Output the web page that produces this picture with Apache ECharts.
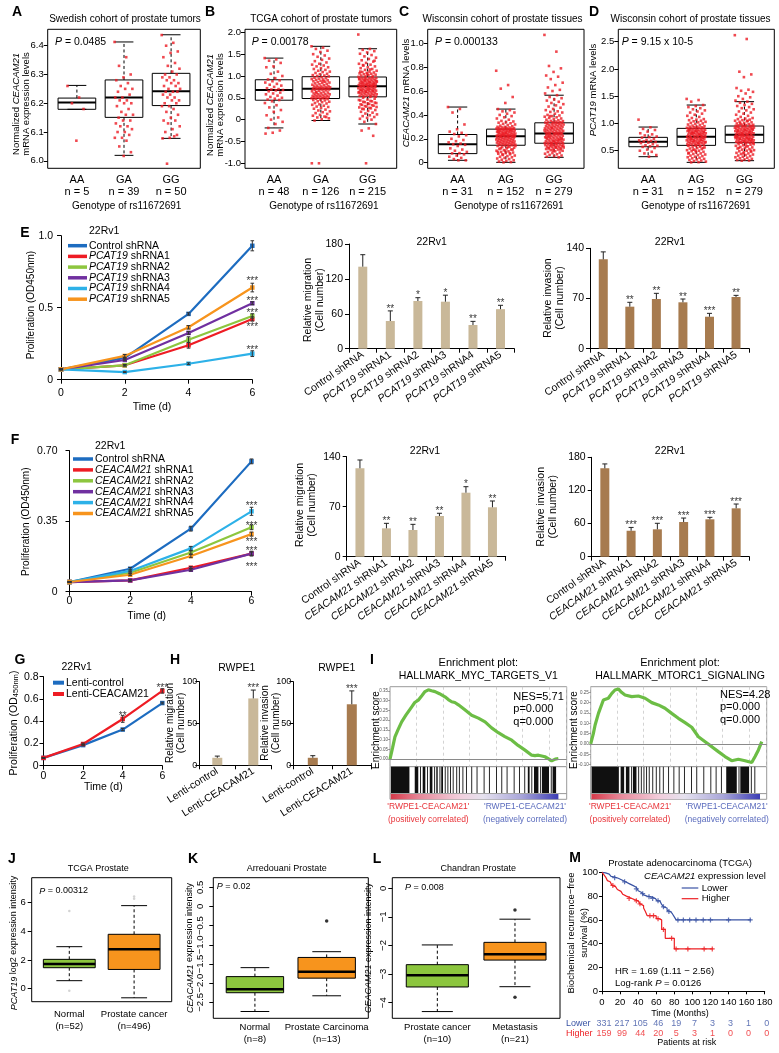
<!DOCTYPE html>
<html><head><meta charset="utf-8"><title>Figure</title>
<script src="https://cdn.jsdelivr.net/npm/echarts@6.0.0/dist/echarts.min.js"></script>
<style>html,body{margin:0;padding:0;background:#fff;}#chart{width:779px;height:1053px;}</style>
</head><body><div id="chart"></div>
<script>
// ======================= DATA =======================
// --- A: Swedish cohort ---
const A_cats = ['AA','GA','GG'];
const A_n = ['n = 5','n = 39','n = 50'];
const A_ticks = [6.0,6.1,6.2,6.3,6.4];
const A_stats = [[6.179,6.179,6.203,6.218,6.262],[6.019,6.151,6.22,6.281,6.413],[6.078,6.192,6.242,6.304,6.438]];
const A_AA = [6.26,6.22,6.20,6.18,6.07];
const A_GA = [6.413,6.36,6.33,6.30,6.29,6.28,6.27,6.26,6.25,6.25,6.24,6.23,6.22,6.22,6.21,6.21,6.20,6.20,6.19,6.18,6.17,6.16,6.16,6.15,6.14,6.14,6.13,6.12,6.12,6.11,6.10,6.10,6.09,6.08,6.08,6.07,6.05,6.03,6.017];
const A_GG = [6.437,6.41,6.40,6.38,6.375,6.36,6.34,6.33,6.32,6.31,6.30,6.30,6.29,6.29,6.28,6.28,6.27,6.27,6.26,6.26,6.25,6.25,6.24,6.24,6.24,6.23,6.23,6.22,6.22,6.21,6.21,6.20,6.20,6.19,6.19,6.18,6.17,6.16,6.15,6.14,6.14,6.13,6.12,6.11,6.10,6.09,6.08,6.078,6.085,5.99];
// --- B: TCGA cohort ---
const B_cats = ['AA','GA','GG'];
const B_n = ['n = 48','n = 126','n = 215'];
const B_ticks = [-1,-0.5,0,0.5,1,1.5,2];
const B_stats = [[-0.19,0.445,0.68,0.914,1.41],[-0.02,0.484,0.71,0.984,1.68],[-0.10,0.523,0.766,0.977,1.625]];
const B_AA = [1.41,1.38,1.35,1.30,1.22,1.20,1.10,1.05,1.00,0.95,0.92,0.90,0.88,0.85,0.82,0.80,0.78,0.75,0.72,0.70,0.69,0.68,0.67,0.65,0.62,0.60,0.58,0.55,0.52,0.50,0.48,0.46,0.45,0.42,0.38,0.33,0.28,0.22,0.18,0.10,0.05,0.0,-0.05,-0.10,-0.19,-0.25,-0.30,-0.32];
const B_GA = [1.68,1.65,1.62,1.58,1.55,1.50,1.47,1.44,1.40,1.37,1.34,1.31,1.28,1.26,1.24,1.22,1.20,1.18,1.16,1.14,1.12,1.10,1.09,1.07,1.05,1.04,1.02,1.01,1.00,0.99,
 0.97,0.96,0.95,0.94,0.93,0.92,0.91,0.90,0.89,0.88,0.87,0.86,0.85,0.84,0.83,0.82,0.81,0.80,0.79,0.78,0.77,0.76,0.76,0.75,0.74,0.74,0.73,0.73,0.72,0.72,0.71,
 0.70,0.70,0.69,0.69,0.68,0.67,0.66,0.65,0.64,0.63,0.62,0.61,0.60,0.59,0.58,0.58,0.57,0.56,0.55,0.55,0.54,0.53,0.53,0.52,0.51,0.51,0.50,0.50,0.49,0.49,0.48,
 0.47,0.46,0.45,0.44,0.42,0.41,0.40,0.38,0.37,0.35,0.34,0.32,0.30,0.29,0.27,0.25,0.23,0.21,0.19,0.17,0.15,0.13,0.11,0.09,0.07,0.05,0.03,0.01,-0.02,0.06,-1.0,-1.0,0.88,0.62];
const B_GG = [1.95,1.62,1.60,1.57,1.54,1.51,1.48,1.45,1.42,1.39,1.36,1.33,1.30,1.28,1.26,1.24,1.22,1.20,1.18,1.16,1.14,1.12,1.10,1.09,1.08,1.07,1.06,1.05,1.04,1.03,1.02,1.01,1.00,0.99,0.98,1.15,1.25,1.35,1.05,1.10,
 0.97,0.96,0.955,0.95,0.945,0.94,0.93,0.925,0.92,0.91,0.905,0.90,0.89,0.885,0.88,0.87,0.865,0.86,0.85,0.845,0.84,0.83,0.825,0.82,0.81,0.805,0.80,0.795,0.79,0.785,0.78,0.775,0.77,0.768,0.767,0.90,0.88,0.86,0.84,0.82,0.80,0.94,
 0.765,0.76,0.75,0.745,0.74,0.73,0.725,0.72,0.71,0.705,0.70,0.69,0.685,0.68,0.67,0.665,0.66,0.65,0.645,0.64,0.63,0.625,0.62,0.61,0.605,0.60,0.59,0.585,0.58,0.57,0.565,0.56,0.55,0.545,0.54,0.53,0.525,0.70,0.68,0.66,0.64,0.62,
 0.52,0.50,0.48,0.46,0.44,0.42,0.40,0.38,0.36,0.34,0.32,0.30,0.28,0.26,0.24,0.22,0.20,0.18,0.16,0.14,0.12,0.10,0.08,0.06,0.04,0.02,0.00,-0.05,-0.10,-0.20,-0.25,-0.37,-1.0,0.45,0.43,0.41,0.39,0.37,0.35,0.33,0.31,0.29,0.27,0.25];
// --- C: Wisconsin CEACAM21 ---
const C_cats = ['AA','AG','GG'];
const C_n = ['n = 31','n = 152','n = 279'];
const C_ticks = [0,0.2,0.4,0.6,0.8,1.0];
const C_stats = [[0.02,0.076,0.155,0.236,0.466],[0.003,0.146,0.222,0.281,0.449],[0.045,0.163,0.244,0.334,0.565]];
const C_AA = [0.466,0.45,0.42,0.32,0.28,0.26,0.25,0.24,0.23,0.22,0.20,0.19,0.18,0.17,0.16,0.155,0.15,0.14,0.12,0.11,0.10,0.09,0.08,0.078,0.07,0.06,0.05,0.04,0.03,0.02,0.02];
const C_AG = [0.77,0.65,0.62,0.55,0.50,0.449,0.44,0.43,0.42,0.41,0.40,0.39,0.38,0.37,0.36,0.35,0.345,0.34,0.335,0.33,0.325,0.32,0.315,0.31,0.305,0.30,0.30,0.295,0.295,0.29,0.29,0.29,0.285,0.285,0.285,0.28,0.28,0.28,
 0.278,0.276,0.274,0.272,0.27,0.268,0.266,0.264,0.262,0.26,0.258,0.256,0.254,0.252,0.25,0.248,0.246,0.244,0.242,0.24,0.238,0.236,0.234,0.232,0.23,0.229,0.228,0.227,0.226,0.225,0.224,0.223,0.222,0.222,0.25,0.26,0.27,0.24,
 0.221,0.218,0.216,0.214,0.212,0.21,0.208,0.206,0.204,0.202,0.2,0.198,0.196,0.194,0.192,0.19,0.188,0.186,0.184,0.182,0.18,0.178,0.176,0.174,0.172,0.17,0.168,0.166,0.164,0.162,0.16,0.158,0.156,0.154,0.152,0.15,0.148,0.146,
 0.145,0.14,0.135,0.13,0.125,0.12,0.115,0.11,0.105,0.1,0.095,0.09,0.085,0.08,0.075,0.07,0.065,0.06,0.055,0.05,0.045,0.04,0.035,0.03,0.025,0.02,0.015,0.01,0.005,0.003,0.14,0.13,0.12,0.11,0.1,0.09,0.08,0.07];
const C_GG = [1.07,0.93,0.81,0.79,0.76,0.73,0.72,0.70,0.67,0.65,0.63,0.61,0.60,0.58,
 0.565,0.55,0.54,0.53,0.52,0.51,0.50,0.49,0.48,0.47,0.46,0.45,0.44,0.43,0.425,0.42,0.41,0.40,0.395,0.39,0.385,0.38,0.375,0.37,0.365,0.36,0.355,0.35,0.348,0.345,0.342,0.34,0.338,0.336,0.335,0.39,
 0.333,0.33,0.327,0.325,0.322,0.32,0.317,0.315,0.312,0.31,0.307,0.305,0.302,0.30,0.297,0.295,0.292,0.29,0.287,0.285,0.282,0.28,0.277,0.275,0.272,0.27,0.267,0.265,0.262,0.26,0.257,0.255,0.252,0.25,0.248,0.246,0.245,0.244,0.29,0.27,
 0.243,0.24,0.238,0.235,0.233,0.23,0.228,0.225,0.223,0.22,0.218,0.215,0.213,0.21,0.208,0.205,0.203,0.20,0.198,0.195,0.193,0.19,0.188,0.185,0.183,0.18,0.178,0.175,0.173,0.17,0.168,0.166,0.165,0.164,0.163,0.22,0.20,0.18,0.21,0.19,
 0.162,0.16,0.157,0.155,0.152,0.15,0.147,0.145,0.142,0.14,0.137,0.135,0.132,0.13,0.127,0.125,0.122,0.12,0.117,0.115,0.11,0.105,0.10,0.095,0.09,0.085,0.08,0.075,0.07,0.065,0.06,0.055,0.05,0.045,0.15,0.14,0.13,0.12,0.11,0.10];
// --- D: Wisconsin PCAT19 ---
const D_cats = ['AA','AG','GG'];
const D_n = ['n = 31','n = 152','n = 279'];
const D_ticks = [0.5,1.0,1.5,2.0,2.5];
const D_stats = [[0.39,0.573,0.665,0.745,0.934],[0.286,0.598,0.757,0.91,1.338],[0.317,0.647,0.794,0.953,1.40]];
const D_AA = [1.07,0.93,0.90,0.88,0.85,0.82,0.80,0.78,0.76,0.75,0.74,0.72,0.70,0.69,0.68,0.67,0.66,0.65,0.64,0.62,0.60,0.59,0.58,0.57,0.55,0.52,0.50,0.48,0.45,0.42,0.39];
const D_AG = [1.45,1.43,1.40,1.338,1.32,1.30,1.28,1.26,1.24,1.22,1.20,1.18,1.16,1.14,1.12,1.10,1.08,1.07,1.06,1.05,1.04,1.03,1.02,1.01,1.00,0.99,0.98,0.97,0.96,0.95,0.94,0.94,0.93,0.93,0.92,0.92,0.91,0.91,
 0.905,0.90,0.895,0.89,0.885,0.88,0.875,0.87,0.865,0.86,0.855,0.85,0.845,0.84,0.835,0.83,0.825,0.82,0.815,0.81,0.805,0.80,0.795,0.79,0.785,0.78,0.775,0.77,0.765,0.76,0.758,0.80,0.82,0.84,0.86,0.88,0.78,0.83,
 0.755,0.75,0.745,0.74,0.735,0.73,0.725,0.72,0.715,0.71,0.705,0.70,0.695,0.69,0.685,0.68,0.675,0.67,0.665,0.66,0.655,0.65,0.645,0.64,0.635,0.63,0.625,0.62,0.615,0.61,0.605,0.60,0.70,0.68,0.66,0.64,0.72,0.74,
 0.595,0.59,0.58,0.57,0.56,0.55,0.54,0.53,0.52,0.51,0.50,0.49,0.48,0.47,0.46,0.45,0.44,0.43,0.42,0.41,0.40,0.39,0.38,0.37,0.36,0.35,0.34,0.33,0.32,0.31,0.30,0.29,0.286,0.55,0.50,0.45,0.58,0.52];
const D_GG = [2.62,2.55,1.95,1.90,1.85,1.65,1.62,1.60,1.58,1.55,1.50,1.48,1.45,1.42,
 1.40,1.38,1.36,1.34,1.32,1.30,1.28,1.26,1.24,1.22,1.20,1.18,1.16,1.14,1.12,1.10,1.09,1.08,1.07,1.06,1.05,1.04,1.03,1.02,1.01,1.00,0.99,0.98,0.975,0.97,0.965,0.96,0.958,0.955,1.05,1.00,
 0.95,0.945,0.94,0.935,0.93,0.925,0.92,0.915,0.91,0.905,0.90,0.895,0.89,0.885,0.88,0.875,0.87,0.865,0.86,0.855,0.85,0.845,0.84,0.835,0.83,0.825,0.82,0.815,0.81,0.805,0.80,0.798,0.796,0.795,0.90,0.88,0.86,0.84,0.82,0.92,
 0.79,0.785,0.78,0.775,0.77,0.765,0.76,0.755,0.75,0.745,0.74,0.735,0.73,0.725,0.72,0.715,0.71,0.705,0.70,0.695,0.69,0.685,0.68,0.675,0.67,0.665,0.66,0.655,0.652,0.65,0.648,0.647,0.78,0.76,0.74,0.72,0.70,0.68,0.75,0.71,
 0.645,0.64,0.63,0.62,0.61,0.60,0.59,0.58,0.57,0.56,0.55,0.54,0.53,0.52,0.51,0.50,0.49,0.48,0.47,0.46,0.45,0.44,0.43,0.42,0.41,0.40,0.39,0.38,0.37,0.36,0.35,0.34,0.33,0.32,0.317,0.62,0.58,0.55,0.50,0.45];

// --- E: PCAT19 knockdown ---
const DAYS = [0,2,4,6];
const E_names = ['Control shRNA','PCAT19 shRNA1','PCAT19 shRNA2','PCAT19 shRNA3','PCAT19 shRNA4','PCAT19 shRNA5'];
const E_vals = [[0.072,0.151,0.457,0.93],[0.072,0.10,0.239,0.422],[0.072,0.10,0.278,0.443],[0.072,0.137,0.325,0.531],[0.072,0.053,0.111,0.181],[0.072,0.165,0.364,0.64]];
const E_errs = [[0.003,0.005,0.008,0.035],[0.003,0.005,0.02,0.015],[0.003,0.005,0.02,0.015],[0.003,0.005,0.01,0.01],[0.003,0.003,0.006,0.02],[0.003,0.01,0.012,0.03]];
const E_stars = [[6,0.703,'***'],[6,0.568,'***'],[6,0.483,'***'],[6,0.383,'***'],[6,0.223,'***']];
const E_barCats = ['Control shRNA','PCAT19 shRNA1','PCAT19 shRNA2','PCAT19 shRNA3','PCAT19 shRNA4','PCAT19 shRNA5'];
const E_mig = [141,47.6,82,80.8,40.7,68];
const E_migErr = [20.6,17.4,5.7,11.2,6.3,6.6];
const E_migStars = ['','**','*','*','**','**'];
const E_inv = [124.6,58.6,69.3,64.7,44.6,72.1];
const E_invErr = [10.4,6.1,7.9,4.6,4.7,2.3];
const E_invStars = ['','**','**','**','***','**'];
// --- F: CEACAM21 knockdown ---
const F_names = ['Control shRNA','CEACAM21 shRNA1','CEACAM21 shRNA2','CEACAM21 shRNA3','CEACAM21 shRNA4','CEACAM21 shRNA5'];
const F_vals = [[0.048,0.114,0.313,0.647],[0.048,0.056,0.119,0.189],[0.048,0.094,0.195,0.32],[0.048,0.056,0.109,0.189],[0.048,0.103,0.215,0.399],[0.048,0.084,0.177,0.286]];
const F_errs = [[0.003,0.006,0.012,0.012],[0.002,0.004,0.006,0.008],[0.002,0.004,0.008,0.012],[0.002,0.004,0.006,0.012],[0.002,0.005,0.01,0.02],[0.002,0.004,0.008,0.01]];
const F_stars = [[6,0.439,'***'],[6,0.34,'***'],[6,0.26,'***'],[6,0.215,'***'],[6,0.137,'***']];
const F_barCats = ['Control shRNA','CEACAM21 shRNA1','CEACAM21 shRNA2','CEACAM21 shRNA3','CEACAM21 shRNA4','CEACAM21 shRNA5'];
const F_mig = [123.8,39.7,37.4,57,89.6,69.2];
const F_migErr = [11.6,7,7.9,3.8,8.4,8.8];
const F_migStars = ['','**','**','**','*','**'];
const F_inv = [160,47,49.6,62.8,67.7,87.6];
const F_invErr = [8,6,10.9,7.2,3.6,7.8];
const F_invStars = ['','***','***','***','***','***'];
// --- G / H: overexpression ---
const G_names = ['Lenti-control','Lenti-CEACAM21'];
const G_vals = [[0.07,0.185,0.325,0.563],[0.07,0.195,0.42,0.672]];
const G_errs = [[0.003,0.006,0.01,0.008],[0.003,0.008,0.03,0.02]];
const G_stars = [[4,0.47,'**'],[6,0.725,'***']];
const H_cats = ['Lenti-control','Lenti-CEACAM21'];
const H_mig = [9,80];
const H_migErr = [2,10];
const H_migStars = ['','***'];
const H_inv = [9,73];
const H_invErr = [2.5,16];
const H_invStars = ['','***'];
// --- I: GSEA ---
const I1_es = [[0,0],[0.006,0],[0.015,0.06],[0.028,0.114],[0.045,0.15],[0.066,0.191],[0.09,0.225],[0.123,0.268],[0.14,0.29],[0.16,0.302],[0.18,0.325],[0.198,0.346],[0.217,0.355],[0.235,0.35],[0.255,0.346],[0.28,0.335],[0.311,0.319],[0.33,0.305],[0.349,0.294],[0.367,0.29],[0.387,0.278],[0.42,0.255],[0.462,0.225],[0.5,0.21],[0.538,0.191],[0.575,0.16],[0.613,0.135],[0.65,0.115],[0.689,0.097],[0.725,0.07],[0.764,0.046],[0.802,0.02],[0.82,0.018],[0.84,0.02],[0.877,0.012],[0.9,0.0],[0.915,-0.009],[0.935,0.0],[0.953,0.003]];
const I1_hits = [[0.005,0.11],[0.14,0.16],[0.17,0.175],[0.185,0.20],[0.21,0.215],[0.225,0.24],[0.25,0.252],[0.262,0.27],[0.28,0.282],[0.29,0.30],[0.31,0.312],[0.325,0.33],[0.34,0.342],[0.355,0.36],[0.375,0.377],[0.39,0.392],[0.41,0.412],[0.43,0.432],[0.46,0.462],[0.49,0.492],[0.53,0.532],[0.56,0.562],[0.60,0.602],[0.63,0.632],[0.66,0.662],[0.70,0.702],[0.73,0.732],[0.76,0.762],[0.78,0.79],[0.80,0.802],[0.815,0.84],[0.85,0.852],[0.86,0.90],[0.91,0.912],[0.92,0.94]];
const I1_ticks = [0,0.05,0.10,0.15,0.20,0.25,0.30,0.35];
const I2_es = [[0,0],[0.006,0],[0.015,0.05],[0.025,0.092],[0.044,0.148],[0.072,0.213],[0.1,0.221],[0.12,0.245],[0.138,0.261],[0.157,0.266],[0.175,0.25],[0.195,0.237],[0.233,0.229],[0.271,0.232],[0.309,0.221],[0.347,0.2],[0.384,0.189],[0.422,0.173],[0.46,0.148],[0.498,0.124],[0.536,0.103],[0.574,0.081],[0.612,0.035],[0.65,0.011],[0.688,-0.013],[0.725,-0.037],[0.763,-0.061],[0.801,-0.081],[0.839,-0.074],[0.877,-0.081],[0.915,-0.09],[0.934,-0.061],[0.953,-0.029],[0.972,0.011]];
const I2_hits = [[0.005,0.16],[0.17,0.19],[0.20,0.22],[0.23,0.232],[0.24,0.26],[0.27,0.272],[0.285,0.29],[0.30,0.302],[0.315,0.32],[0.33,0.332],[0.35,0.352],[0.37,0.375],[0.39,0.392],[0.41,0.412],[0.44,0.442],[0.47,0.472],[0.50,0.502],[0.53,0.532],[0.57,0.572],[0.60,0.602],[0.64,0.642],[0.68,0.682],[0.71,0.712],[0.74,0.742],[0.77,0.83],[0.84,0.842],[0.85,0.90],[0.91,0.912],[0.93,0.935]];
const I2_ticks = [-0.10,-0.05,0,0.05,0.10,0.15,0.20,0.25];
// --- J / K / L ---
const J_cats = ['Normal','Prostate cancer'];
const J_n = ['(n=52)','(n=496)'];
const J_ticks = [0,2,4,6];
const J_stats = [[0.56,1.46,1.71,2.04,2.92],[-0.63,1.34,2.75,3.78,5.77]];
const J_out = [[1,5.4],[1,-0.14],[2,6.4],[2,6.25]];
const K_cats = ['Normal','Prostate Carcinoma'];
const K_n = ['(n=8)','(n=13)'];
const K_ticks = [-2.5,-2.0,-1.5,-1.0,-0.5,0,0.5];
const K_stats = [[-2.74,-2.25,-2.16,-1.83,-1.596],[-2.33,-1.87,-1.70,-1.33,-1.18]];
const K_out = [[2,-0.378]];
const L_cats = ['Prostate cancer','Metastasis'];
const L_n = ['(n=10)','(n=21)'];
const L_ticks = [-4,-3,-2,-1,0];
const L_stats = [[-4.31,-3.45,-3.04,-2.67,-1.98],[-3.44,-2.51,-2.31,-1.89,-1.08]];
const L_out = [[2,-0.76],[2,-3.81]];
// --- M: Kaplan-Meier ---
const M_lower = [[0,100],[2,99.5],[4,99],[6,98.5],[8,97.5],[10,96.5],[12,96],[14,95.5],[16,95],[18,94],[20,93.5],[22,93],[24,92],[26,91.5],[28,90.5],[30,90],[32,89],[34,88],[36,87.5],[38,86],[40,84.5],[42,83],[44,82],[46,81],[48,80],[50,79.5],[53,79],[56,78],[59,77],[61,76],[64,75],[66,73],[68,71],[70,70],[72,68],[74,67],[76,66],[78,65],[80,62.5],[82,60],[165,60]];
const M_higher = [[0,100],[1,99],[2,98],[3,97],[4,96],[5,94.5],[6,93],[7,92],[9,90.5],[11,89],[13,88],[15,86.5],[17,85.5],[19,84],[21,83],[23,81.5],[25,80],[27,79],[30,78],[33,77],[36,76.5],[38,76],[40,75],[42,73.5],[44,72],[46,70],[48,67],[50,63.5],[60,61],[63,60],[66,52],[70,44.5],[80,35.6],[123,35.6]];
const M_lowerCens = [[14,95.5],[25,92],[38,86],[45,82],[52,79.5],[56,78],[62,76],[68,71],[74,67],[84,60],[90,60],[97,60],[104,60],[112,60],[120,60],[140,60],[164,60]];
const M_higherCens = [[12,89],[30,78],[38,76],[42,73.5],[53,63.5],[57,63.5],[62,61],[68,52],[77,44.5],[82,35.6],[95,35.6],[113,35.6],[122,35.6]];
const M_months = [0,20,40,60,80,100,120,140,160,180];
const M_riskLower = [331,217,105,46,19,7,3,3,1,0];
const M_riskHigher = [159,99,44,20,5,3,1,0,0,0];

// ======================= BUILD =======================
const FONT = "'Liberation Sans', Arial, Helvetica, sans-serif";
const grids = [], xAxes = [], yAxes = [], series = [], graphics = [];
const LINE_COLORS = ['#1d6cc0','#ee1c24','#8dc63f','#7030a0','#2db1e8','#f7941d'];
const MIG = '#c9b899', INV = '#a77b4f';
const KM_BLUE = '#3953a4', KM_RED = '#ed2024';

function T(x, y, text, o) {
  o = o || {};
  const fs = o.size || 10.5, col = o.color || '#000';
  const st = {text: text.replace(/\*([^*]+)\*/g, '{i|$1}'), fill: col, fontSize: fs, fontFamily: FONT,
    fontWeight: o.bold ? 'bold' : 'normal', align: o.align || 'center', verticalAlign: o.va || 'middle',
    rich: {i: {fontStyle: 'italic', fontSize: fs, fontFamily: FONT, fill: col, lineHeight: o.lh},
           s: {fontSize: fs * 0.72, fontFamily: FONT, fill: col, verticalAlign: 'bottom', lineHeight: o.lh}}};
  if (o.lh) st.lineHeight = o.lh;
  graphics.push({type: 'text', x: x, y: y, rotation: o.rot ? Math.PI / 2 : 0, silent: true, z: 50, style: st});
}
function Ln(x1, y1, x2, y2, color, w) {
  graphics.push({type: 'line', shape: {x1, y1, x2, y2}, style: {stroke: color, lineWidth: w}, silent: true, z: 50});
}
const jit = i => (((i * 0.6180339887) % 1) - 0.5) * 0.4;
function jitterPts(groups) { const out = []; groups.forEach((g, gi) => g.forEach((v, i) => out.push([gi + 1 + jit(i), v]))); return out; }
const fmt1 = v => v === 0 ? '0' : v.toFixed(1);
const fmtM1 = v => (v === 0 ? '0' : v.toFixed(1)).replace('-', '\u2212');
const fmtMi = v => String(v).replace('-', '\u2212');
const italGene = s => s.replace(/^(PCAT19|CEACAM21) /, '{i|$1} ');

function boxRender(bw, fills, capF, medW) {
  return function (params, api) {
    const i = params.dataIndex, x = api.value(0);
    const lo = api.coord([x, api.value(1)]), q1 = api.coord([x, api.value(2)]), md = api.coord([x, api.value(3)]),
          q3 = api.coord([x, api.value(4)]), hi = api.coord([x, api.value(5)]);
    const hw = api.size([bw, 0])[0] / 2, cw = hw * capF, cx = md[0];
    const dash = {stroke: '#000', lineWidth: 1, lineDash: [3, 2.5]}, solid = {stroke: '#000', lineWidth: 1};
    return {type: 'group', children: [
      {type: 'line', shape: {x1: cx, y1: q3[1], x2: cx, y2: hi[1]}, style: dash},
      {type: 'line', shape: {x1: cx, y1: q1[1], x2: cx, y2: lo[1]}, style: dash},
      {type: 'line', shape: {x1: cx - cw, y1: hi[1], x2: cx + cw, y2: hi[1]}, style: solid},
      {type: 'line', shape: {x1: cx - cw, y1: lo[1], x2: cx + cw, y2: lo[1]}, style: solid},
      {type: 'rect', shape: {x: cx - hw, y: q3[1], width: 2 * hw, height: q1[1] - q3[1]}, style: {fill: fills[i] || 'none', stroke: '#000', lineWidth: 1}},
      {type: 'line', shape: {x1: cx - hw, y1: md[1], x2: cx + hw, y2: md[1]}, style: {stroke: '#000', lineWidth: medW}}
    ]};
  };
}
function errRender(both, cap, color) {
  return function (params, api) {
    const x = api.value(0), v = api.value(1), e = api.value(2);
    if (!e) return null;
    const t = api.coord([x, v + e]), b = api.coord([x, both ? v - e : v]);
    const st = {stroke: color, lineWidth: 1};
    const ch = [{type: 'line', shape: {x1: t[0], y1: t[1], x2: b[0], y2: b[1]}, style: st},
                {type: 'line', shape: {x1: t[0] - cap, y1: t[1], x2: t[0] + cap, y2: t[1]}, style: st}];
    if (both) ch.push({type: 'line', shape: {x1: b[0] - cap, y1: b[1], x2: b[0] + cap, y2: b[1]}, style: st});
    return {type: 'group', children: ch};
  };
}
function starSeries(xi, yi, data, offY, fs) {
  series.push({type: 'scatter', xAxisIndex: xi, yAxisIndex: yi, silent: true, z: 6, symbolSize: 1,
    itemStyle: {color: 'rgba(0,0,0,0)'}, data: data,
    label: {show: true, position: 'inside', offset: [0, offY], formatter: p => p.value[2], fontSize: fs || 10, fontFamily: FONT, color: '#000'}});
}

// R-style boxplot panel
function rPanel(p) {
  const gi = grids.length, n = p.cats.length;
  grids.push({left: p.box[0], top: p.box[1], width: p.box[2], height: p.box[3], show: true, borderColor: '#000', borderWidth: 1, backgroundColor: 'transparent'});
  xAxes.push({gridIndex: gi, type: 'value', min: 0.5 - 0.04 * n, max: n + 0.5 + 0.04 * n, axisLine: {show: false}, axisTick: {show: false}, splitLine: {show: false},
    axisLabel: {customValues: p.cats.map((c, i) => i + 1), formatter: v => p.cats[Math.round(v) - 1] + '\n' + p.sub[Math.round(v) - 1],
      fontSize: p.xfs, fontFamily: FONT, color: '#000', margin: p.xm, lineHeight: p.xlh}});
  yAxes.push({gridIndex: gi, type: 'value', min: p.yr[0], max: p.yr[1], axisLine: {show: false}, splitLine: {show: false},
    axisTick: {show: true, customValues: p.ticks, length: 4, lineStyle: {color: '#000', width: 1}},
    axisLabel: {customValues: p.ticks, formatter: p.fmt, fontSize: p.yfs, fontFamily: FONT, color: '#000', margin: p.ym, rotate: p.yrot || 0}});
  const xi = xAxes.length - 1, yi = yAxes.length - 1;
  series.push({type: 'custom', xAxisIndex: xi, yAxisIndex: yi, silent: true, z: 2,
    data: p.stats.map((s, i) => [i + 1].concat(s)), encode: {x: 0, y: [1, 2, 3, 4, 5]},
    renderItem: boxRender(0.8, p.fills || [], 0.5, p.medW || 2)});
  if (p.pts) series.push({type: 'scatter', xAxisIndex: xi, yAxisIndex: yi, silent: true, z: 3, symbol: 'rect', symbolSize: 2.6,
    itemStyle: {color: '#ec1c24'}, data: jitterPts(p.pts)});
  if (p.out) series.push({type: 'scatter', xAxisIndex: xi, yAxisIndex: yi, silent: true, z: 3, symbol: 'circle', symbolSize: p.outSize || 3,
    itemStyle: {color: p.outColor || '#000'}, data: p.out});
}
function linePanel(p) {
  const gi = grids.length;
  grids.push({left: p.box[0], top: p.box[1], width: p.box[2], height: p.box[3]});
  const axL = {show: true, lineStyle: {color: '#000', width: 1}};
  const tk = {show: true, length: 4, lineStyle: {color: '#000', width: 1}};
  xAxes.push({gridIndex: gi, type: 'value', min: 0, max: 6, interval: 2, axisLine: axL, axisTick: tk, splitLine: {show: false},
    axisLabel: {fontSize: p.fs, fontFamily: FONT, color: '#000', margin: p.xm}});
  yAxes.push({gridIndex: gi, type: 'value', min: 0, max: p.ymax, interval: p.yint, axisLine: axL, axisTick: tk, splitLine: {show: false},
    axisLabel: {formatter: p.fmt, fontSize: p.fs, fontFamily: FONT, color: '#000', margin: p.ym}});
  const xi = xAxes.length - 1, yi = yAxes.length - 1;
  p.vals.forEach((vals, k) => {
    const c = p.colors[k];
    series.push({type: 'line', name: p.names[k], xAxisIndex: xi, yAxisIndex: yi, silent: true, z: 3,
      data: DAYS.map((d, i) => [d, vals[i]]), symbol: 'rect', symbolSize: 4.5, showSymbol: true,
      lineStyle: {width: 2.2, color: c}, itemStyle: {color: c}});
    series.push({type: 'custom', xAxisIndex: xi, yAxisIndex: yi, silent: true, z: 4,
      data: DAYS.map((d, i) => [d, vals[i], p.errs[k][i]]), encode: {x: 0, y: 1}, renderItem: errRender(true, 1.8, '#333')});
  });
  starSeries(xi, yi, p.stars, 3, 10);
}
function barPanel(p) {
  const gi = grids.length;
  grids.push({left: p.box[0], top: p.box[1], width: p.box[2], height: p.box[3]});
  const axL = {show: true, lineStyle: {color: '#000', width: 1}};
  const tk = {show: true, length: 4, lineStyle: {color: '#000', width: 1}};
  xAxes.push({gridIndex: gi, type: 'category', data: p.cats, axisLine: axL, axisTick: tk,
    axisLabel: {interval: 0, rotate: p.rot, fontSize: p.lfs, fontFamily: FONT, color: '#000', margin: 5, formatter: italGene,
      rich: {i: {fontStyle: 'italic', fontSize: p.lfs, fontFamily: FONT, color: '#000'}}}});
  yAxes.push({gridIndex: gi, type: 'value', min: 0, max: p.ymax, interval: p.yint, axisLine: axL, axisTick: tk, splitLine: {show: false},
    axisLabel: {fontSize: p.yfs, fontFamily: FONT, color: '#000', margin: p.ym}});
  const xi = xAxes.length - 1, yi = yAxes.length - 1;
  series.push({type: 'bar', xAxisIndex: xi, yAxisIndex: yi, silent: true, data: p.vals, barWidth: p.bw, itemStyle: {color: p.color}, z: 2});
  series.push({type: 'custom', xAxisIndex: xi, yAxisIndex: yi, silent: true, z: 3,
    data: p.vals.map((v, i) => [i, v, p.errs[i]]), encode: {x: 0, y: 1}, renderItem: errRender(false, 2.5, '#222')});
  starSeries(xi, yi, p.vals.map((v, i) => [i, v + p.errs[i], p.stars[i]]), -2, 10);
}
function hitsRender(params, api) {
  const p1 = api.coord([api.value(0), 1]), p2 = api.coord([api.value(1), 0.19]);
  return {type: 'rect', shape: {x: p1[0], y: p1[1], width: Math.max(0.9, p2[0] - p1[0]), height: p2[1] - p1[1]}, style: {fill: '#101010'}};
}
function cbarRender(params, api) {
  const p1 = api.coord([api.value(0), 0.16]), p2 = api.coord([api.value(1), 0]);
  const s1 = api.coord([0, 0.175]), s2 = api.coord([1, 0.175]);
  return {type: 'group', children: [
    {type: 'line', shape: {x1: s1[0], y1: s1[1], x2: s2[0], y2: s2[1]}, style: {stroke: '#999', lineWidth: 1}},
    {type: 'rect', shape: {x: p1[0], y: p1[1], width: p2[0] - p1[0], height: p2[1] - p1[1]},
      style: {fill: new echarts.graphic.LinearGradient(0, 0, 1, 0, [
        {offset: 0, color: '#d63a4a'}, {offset: 0.18, color: '#e78b9c'}, {offset: 0.4, color: '#f2cddb'},
        {offset: 0.55, color: '#e6e2ef'}, {offset: 0.78, color: '#a9a6d9'}, {offset: 1, color: '#3c3db4'}])}}
  ]};
}
function gseaPanel(p) {
  let gi = grids.length;
  grids.push({left: p.left, top: p.top, width: p.width, height: 80, show: true, borderColor: '#999', borderWidth: 1, backgroundColor: 'transparent'});
  xAxes.push({gridIndex: gi, type: 'value', min: 0, max: 1, interval: 0.15, axisLine: {show: false}, axisTick: {show: false}, axisLabel: {show: false},
    splitLine: {show: true, lineStyle: {color: '#c8c8c8', type: [3, 3], width: 0.8}}});
  yAxes.push({gridIndex: gi, type: 'value', min: p.yr[0], max: p.yr[1], axisLine: {show: false}, splitLine: {show: false},
    axisTick: {show: true, customValues: p.ticks, length: 2, lineStyle: {color: '#666', width: 0.6}},
    axisLabel: {customValues: p.ticks, formatter: v => v.toFixed(2), fontSize: 4.5, fontFamily: FONT, color: '#555', margin: 2}});
  let xi = xAxes.length - 1, yi = yAxes.length - 1;
  series.push({type: 'line', xAxisIndex: xi, yAxisIndex: yi, silent: true, z: 3, data: p.es, symbol: 'none',
    lineStyle: {width: 3.2, color: '#6cbd45'},
    markLine: {silent: true, symbol: 'none', label: {show: false}, lineStyle: {color: '#8a8a8a', type: 'solid', width: 1.2}, data: [{yAxis: 0}]}});
  gi = grids.length;
  grids.push({left: p.left, top: p.top + 80, width: p.width, height: 32.6, show: true, borderColor: '#999', borderWidth: 1, backgroundColor: '#fff'});
  xAxes.push({gridIndex: gi, type: 'value', min: 0, max: 1, show: false});
  yAxes.push({gridIndex: gi, type: 'value', min: 0, max: 1, show: false});
  xi = xAxes.length - 1; yi = yAxes.length - 1;
  series.push({type: 'custom', xAxisIndex: xi, yAxisIndex: yi, silent: true, z: 3, data: p.hits, encode: {x: [0, 1], y: -1}, renderItem: hitsRender});
  series.push({type: 'custom', xAxisIndex: xi, yAxisIndex: yi, silent: true, z: 3, data: [[0.004, p.cbarEnd]], encode: {x: [0, 1], y: -1}, renderItem: cbarRender});
}

// ---------- Row 1: A-D ----------
const topCommon = {xfs: 11, xm: 6, xlh: 12, yfs: 9.5, ym: 4, fmt: fmt1};
rPanel(Object.assign({box: [47.7, 29.3, 152.6, 139], yr: [5.974, 6.457], ticks: A_ticks, cats: A_cats, sub: A_n, stats: A_stats, pts: [A_AA, A_GA, A_GG]}, topCommon));
rPanel(Object.assign({box: [245, 29.3, 151.7, 139], yr: [-1.115, 2.07], ticks: B_ticks, cats: B_cats, sub: B_n, stats: B_stats, pts: [B_AA, B_GA, B_GG]}, topCommon));
rPanel(Object.assign({box: [427.7, 29.3, 156.3, 139], yr: [-0.047, 1.117], ticks: C_ticks, cats: C_cats, sub: C_n, stats: C_stats, pts: [C_AA, C_AG, C_GG]}, topCommon));
rPanel(Object.assign({box: [618.3, 29.3, 156, 139], yr: [0.177, 2.728], ticks: D_ticks, cats: D_cats, sub: D_n, stats: D_stats, pts: [D_AA, D_AG, D_GG]}, topCommon));
[['A', 17], ['B', 210], ['C', 404], ['D', 594]].forEach(a => T(a[1], 12, a[0], {bold: 1, size: 14}));
T(125, 19, 'Swedish cohort of prostate tumors', {size: 10});
T(321, 19, 'TCGA cohort of prostate tumors', {size: 10});
T(502.5, 19, 'Wisconsin cohort of prostate tissues', {size: 10});
T(690.5, 19, 'Wisconsin cohort of prostate tissues', {size: 10});
T(55, 41.7, '*P* = 0.0485', {align: 'left', size: 10.5});
T(251.7, 41.7, '*P* = 0.00178', {align: 'left', size: 10.5});
T(435, 41.7, '*P* = 0.000133', {align: 'left', size: 10.5});
T(621.7, 41.7, '*P* = 9.15 x 10-5', {align: 'left', size: 10.5});
[126.7, 324, 509, 696].forEach(x => T(x, 206, 'Genotype of rs11672691', {size: 10}));
T(21, 104, 'Normalized *CEACAM21*\nmRNA expression levels', {rot: 1, size: 9.5, lh: 10});
T(215, 105, 'Normalized *CEACAM21*\nmRNA expression levels', {rot: 1, size: 9.5, lh: 10});
T(406, 93, '*CEACAM21* mRNA levels', {rot: 1, size: 9.5});
T(593.5, 90, '*PCAT19* mRNA levels', {rot: 1, size: 9.5});

// ---------- Row E ----------
linePanel({box: [61, 235.7, 191.3, 144], ymax: 1, yint: 0.5, fmt: fmt1, fs: 10.5, xm: 8, ym: 8,
  vals: E_vals, errs: E_errs, names: E_names, colors: LINE_COLORS, stars: E_stars});
barPanel({box: [349, 244, 165.3, 104.7], ymax: 180, yint: 60, cats: E_barCats, vals: E_mig, errs: E_migErr, stars: E_migStars,
  color: MIG, bw: 9, rot: 35, lfs: 10.5, yfs: 10.5, ym: 6});
barPanel({box: [590, 248.3, 159.3, 100.4], ymax: 140, yint: 70, cats: E_barCats, vals: E_inv, errs: E_invErr, stars: E_invStars,
  color: INV, bw: 9, rot: 35, lfs: 10.5, yfs: 10.5, ym: 6});
T(25, 233, 'E', {bold: 1, size: 14});
T(31.7, 305, 'Proliferation (OD450nm)', {rot: 1, size: 10});
T(152, 407, 'Time (d)', {size: 10.5});
T(89, 231.5, '22Rv1', {align: 'left', size: 10.5});
E_names.forEach((n, k) => { const y = 245.7 + k * 10.7; Ln(68, y, 87, y, LINE_COLORS[k], 3.5); T(89, y, n.replace(/^(PCAT19|CEACAM21)/, '*$1*'), {align: 'left', size: 10.5}); });
T(431.7, 242.3, '22Rv1', {size: 10.5});
T(314, 300, 'Relative migration\n(Cell number)', {rot: 1, size: 10.5, lh: 12});
T(670, 241.7, '22Rv1', {size: 10.5});
T(554, 298, 'Relative invasion\n(Cell number)', {rot: 1, size: 10.5, lh: 12});

// ---------- Row F ----------
linePanel({box: [69.5, 450.7, 182, 141], ymax: 0.7, yint: 0.35, fmt: v => v === 0 ? '0' : v.toFixed(2), fs: 10.5, xm: 4, ym: 12,
  vals: F_vals, errs: F_errs, names: F_names, colors: LINE_COLORS, stars: F_stars});
barPanel({box: [346.7, 456.7, 159, 100], ymax: 140, yint: 70, cats: F_barCats, vals: F_mig, errs: F_migErr, stars: F_migStars,
  color: MIG, bw: 9, rot: 35, lfs: 10.5, yfs: 10.5, ym: 6});
barPanel({box: [591.7, 457.3, 157.6, 99.4], ymax: 180, yint: 60, cats: F_barCats, vals: F_inv, errs: F_invErr, stars: F_invStars,
  color: INV, bw: 9, rot: 35, lfs: 10.5, yfs: 10.5, ym: 6});
T(15, 440, 'F', {bold: 1, size: 14});
T(26.7, 521.7, 'Proliferation (OD450nm)', {rot: 1, size: 10});
T(146.7, 616, 'Time (d)', {size: 10.5});
T(95, 446, '22Rv1', {align: 'left', size: 10.5});
F_names.forEach((n, k) => { const y = 459 + k * 10.9; Ln(73, y, 93, y, LINE_COLORS[k], 3.5); T(95, y, n.replace(/^(PCAT19|CEACAM21)/, '*$1*'), {align: 'left', size: 10.5}); });
T(425, 450.7, '22Rv1', {size: 10.5});
T(306, 505, 'Relative migration\n(Cell number)', {rot: 1, size: 10.5, lh: 12});
T(670, 450.7, '22Rv1', {size: 10.5});
T(547.5, 506.7, 'Relative invasion\n(Cell number)', {rot: 1, size: 10.5, lh: 12});

// ---------- Row G / H / I ----------
linePanel({box: [43.5, 676.7, 118.8, 89], ymax: 0.8, yint: 0.2, fmt: fmt1, fs: 10.5, xm: 5, ym: 5,
  vals: G_vals, errs: G_errs, names: G_names, colors: ['#1d6cc0', '#ee1c24'], stars: G_stars});
barPanel({box: [199.3, 681.7, 72, 83.6], ymax: 100, yint: 50, cats: H_cats, vals: H_mig, errs: H_migErr, stars: H_migStars,
  color: MIG, bw: 10, rot: 32, lfs: 10.5, yfs: 9, ym: 2});
barPanel({box: [293.3, 681.7, 78, 83.6], ymax: 100, yint: 50, cats: H_cats, vals: H_inv, errs: H_invErr, stars: H_invStars,
  color: INV, bw: 10, rot: 32, lfs: 10.5, yfs: 9, ym: 2});
T(20, 660, 'G', {bold: 1, size: 14});
T(76.7, 666.7, '22Rv1', {size: 10.5});
T(14, 723, 'Proliferation (OD{s|450nm})', {rot: 1, size: 10.5});
T(103.3, 786.7, 'Time (d)', {size: 10.5});
G_names.forEach((n, k) => { const y = 682.7 + k * 11.3; Ln(53, y, 64, y, ['#1d6cc0', '#ee1c24'][k], 4); T(66, y, n, {align: 'left', size: 10.5}); });
T(175, 660, 'H', {bold: 1, size: 14});
T(236.7, 668.3, 'RWPE1', {size: 10.5});
T(336.7, 668.3, 'RWPE1', {size: 10.5});
T(176, 723, 'Relative migration\n(Cell number)', {rot: 1, size: 10, lh: 11});
T(271, 723, 'Relative invasion\n(Cell number)', {rot: 1, size: 10, lh: 11});

gseaPanel({left: 390, top: 686.7, width: 176.7, yr: [-0.039, 0.371], ticks: I1_ticks, es: I1_es, hits: I1_hits, cbarEnd: 0.953});
gseaPanel({left: 590.7, top: 686.7, width: 176, yr: [-0.11, 0.277], ticks: I2_ticks, es: I2_es, hits: I2_hits, cbarEnd: 0.962});
T(372, 660, 'I', {bold: 1, size: 14});
T(478.3, 663.3, 'Enrichment plot:', {size: 11});
T(478.3, 675.7, 'HALLMARK_MYC_TARGETS_V1', {size: 10.5});
T(680, 663.3, 'Enrichment plot:', {size: 11});
T(680, 675.7, 'HALLMARK_MTORC1_SIGNALING', {size: 10.5});
T(513.3, 696.7, 'NES=5.71', {align: 'left', size: 11});
T(513.3, 709, 'p=0.000', {align: 'left', size: 11});
T(513.3, 721.7, 'q=0.000', {align: 'left', size: 11});
T(720, 695, 'NES=4.28', {align: 'left', size: 11});
T(720, 707.3, 'p=0.000', {align: 'left', size: 11});
T(720, 720, 'q=0.000', {align: 'left', size: 11});
T(376.7, 730, 'Enrichment score', {rot: 1, size: 10});
T(574.3, 730, 'Enrichment score', {rot: 1, size: 10});
const IRED = '#e8343a', IBLUE = '#5a6bbd';
[[428.3, 525], [630, 726.7]].forEach(pr => {
  T(pr[0], 806.7, "'RWPE1-CEACAM21'", {size: 8.5, color: IRED});
  T(pr[0], 819.3, '(positively correlated)', {size: 8.5, color: IRED});
  T(pr[1], 806.7, "'RWPE1-CEACAM21'", {size: 8.5, color: IBLUE});
  T(pr[1], 819.3, '(negatively correlated)', {size: 8.5, color: IBLUE});
});

// ---------- Row J / K / L / M ----------
rPanel({box: [31.7, 877.7, 140, 124], yr: [-0.9, 7.71], ticks: J_ticks, cats: J_cats, sub: J_n, stats: J_stats, fills: ['#8cc63e', '#f7941d'],
  medW: 2.5, out: J_out, outColor: '#c8c8c8', outSize: 2.5, xfs: 9.5, xm: 6.4, xlh: 12.4, yfs: 9.5, ym: 6, fmt: fmtMi});
rPanel({box: [213.3, 877.7, 155, 140.6], yr: [-2.917, 0.75], ticks: K_ticks, cats: K_cats, sub: K_n, stats: K_stats, fills: ['#8cc63e', '#f7941d'],
  medW: 2.5, out: K_out, outColor: '#000', outSize: 3.5, xfs: 9.5, xm: 3, xlh: 12, yfs: 9.5, ym: 8, yrot: 90, fmt: fmtM1});
rPanel({box: [392.3, 877.7, 167.7, 140.6], yr: [-4.545, 0.37], ticks: L_ticks, cats: L_cats, sub: L_n, stats: L_stats, fills: ['#8cc63e', '#f7941d'],
  medW: 2.5, out: L_out, outColor: '#000', outSize: 3.5, xfs: 9.5, xm: 3.4, xlh: 12, yfs: 9.5, ym: 4, yrot: 90, fmt: fmtMi});
T(12, 859, 'J', {bold: 1, size: 14});
T(193, 859, 'K', {bold: 1, size: 14});
T(377, 859, 'L', {bold: 1, size: 14});
T(98.3, 868.3, 'TCGA Prostate', {size: 9});
T(286.7, 869, 'Arredouani Prostate', {size: 9});
T(478.3, 868.3, 'Chandran Prostate', {size: 9});
T(39.3, 891, '*P* = 0.00312', {align: 'left', size: 9});
T(216.7, 886.7, '*P* = 0.02', {align: 'left', size: 9});
T(405, 887.3, '*P* = 0.008', {align: 'left', size: 9});
T(14, 943, '*PCAT19* log2 expression intensity', {rot: 1, size: 9});
T(190, 948, '*CEACAM21* expression intensity', {rot: 1, size: 9});
T(368.3, 948, '*CEACAM21* expression intensity', {rot: 1, size: 9});

// M: KM
(function () {
  const gi = grids.length;
  grids.push({left: 602, top: 872.3, width: 162.7, height: 119});
  const axL = {show: true, lineStyle: {color: '#000', width: 1}};
  const tk = {show: true, length: 3, lineStyle: {color: '#000', width: 1}};
  xAxes.push({gridIndex: gi, type: 'value', min: 0, max: 180, interval: 20, axisLine: axL, axisTick: tk, splitLine: {show: false},
    axisLabel: {fontSize: 9.5, fontFamily: FONT, color: '#000', margin: 6}});
  yAxes.push({gridIndex: gi, type: 'value', min: 0, max: 100, interval: 20, axisLine: axL, axisTick: tk, splitLine: {show: false},
    axisLabel: {fontSize: 9.5, fontFamily: FONT, color: '#000', margin: 4}});
  const xi = xAxes.length - 1, yi = yAxes.length - 1;
  const plus = 'path://M3,0h2v3h3v2h-3v3h-2v-3h-3v-2h3z';
  [[M_lower, M_lowerCens, KM_BLUE], [M_higher, M_higherCens, KM_RED]].forEach(s => {
    series.push({type: 'line', xAxisIndex: xi, yAxisIndex: yi, silent: true, step: 'end', data: s[0], symbol: 'none', lineStyle: {width: 1.2, color: s[2]}, z: 3});
    series.push({type: 'scatter', xAxisIndex: xi, yAxisIndex: yi, silent: true, data: s[1], symbol: plus, symbolSize: 5, itemStyle: {color: s[2]}, z: 4});
  });
  const g2 = grids.length;
  grids.push({left: 602, top: 1018.3, width: 162.7, height: 20});
  xAxes.push({gridIndex: g2, type: 'value', min: 0, max: 180, show: false});
  yAxes.push({gridIndex: g2, type: 'category', data: ['Higher', 'Lower'], axisLine: {show: false}, axisTick: {show: false},
    axisLabel: {interval: 0, fontSize: 9, fontFamily: FONT, margin: 36, align: 'left', color: v => v === 'Lower' ? KM_BLUE : KM_RED}});
  const x2 = xAxes.length - 1, y2 = yAxes.length - 1;
  [['Lower', M_riskLower, KM_BLUE], ['Higher', M_riskHigher, KM_RED]].forEach(r => {
    series.push({type: 'scatter', xAxisIndex: x2, yAxisIndex: y2, silent: true, symbolSize: 1, itemStyle: {color: 'rgba(0,0,0,0)'},
      data: M_months.map((m, i) => [m, r[0], r[1][i]]),
      label: {show: true, position: 'inside', offset: [2, 0], formatter: p => String(p.value[2]), fontSize: 9, fontFamily: FONT, color: r[2]}});
  });
})();
T(575, 858, 'M', {bold: 1, size: 14});
T(680, 863.3, 'Prostate adenocarcinoma (TCGA)', {size: 9.5});
T(705, 876.7, '*CEACAM21* expression level', {size: 9.5});
Ln(681.7, 888, 698.3, 888, KM_BLUE, 1.2); T(701.7, 888, 'Lower', {align: 'left', size: 9.5});
Ln(681.7, 898.7, 698.3, 898.7, KM_RED, 1.2); T(701.7, 898.7, 'Higher', {align: 'left', size: 9.5});
T(578.3, 933, 'Biochemical recurrence\u2212free\nsurvival (%)', {rot: 1, size: 9.5, lh: 13});
T(615, 971.7, 'HR = 1.69 (1.11 \u2212 2.56)', {align: 'left', size: 9.5});
T(615, 983.3, 'Log-rank *P* = 0.0126', {align: 'left', size: 9.5});
T(680, 1013.3, 'Time (Months)', {size: 9});
T(686.7, 1042.3, 'Patients at risk', {size: 9});

const chart = echarts.init(document.getElementById('chart'), null, {renderer: 'canvas', width: 779, height: 1053});
chart.setOption({animation: false, backgroundColor: '#fff', grid: grids, xAxis: xAxes, yAxis: yAxes, series: series, graphic: graphics});
</script></body></html>
